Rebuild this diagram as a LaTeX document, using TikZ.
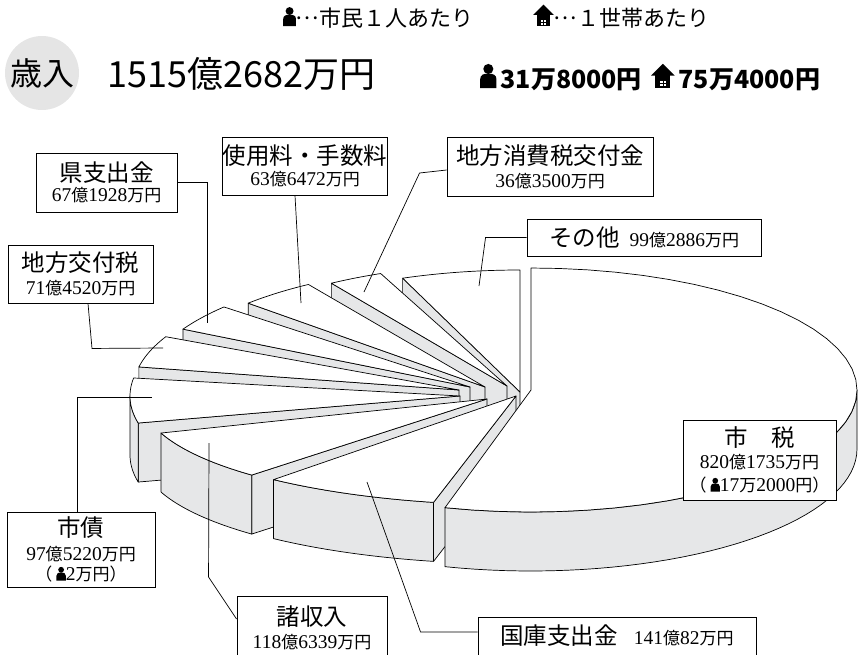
\documentclass[tikz,border=0pt]{standalone}
\usepackage{fontspec}
\setmainfont{Noto Sans CJK JP}
\newfontfamily\numfont{Liberation Serif}
\definecolor{wallgray}{RGB}{230,231,232}
\definecolor{badgegray}{RGB}{229,229,229}

\newcommand\dg[1]{{\numfont\fontsize{19.5}{20}\selectfont #1}}
\newcommand\ttl{\fontsize{23.5}{20}\selectfont}
\newcommand\amt{\fontsize{17}{20}\selectfont}
\newcommand\middots{\raisebox{0.3em}{…}}

\newcommand\personmark[1][1]{\tikz[baseline=0pt,x=#1pt,y=#1pt]{%
	\fill[black] (0,13.6) circle (3.6);
	\fill[black] (-5.8,0) -- (-5.8,6.3) .. controls (-5.8,9.4) and (-3.4,10.3) .. (0,10.3) .. controls (3.4,10.3) and (5.8,9.4) .. (5.8,6.3) -- (5.8,0) -- cycle;}}
\newcommand\housemark[1][1]{\tikz[baseline=0pt,x=#1pt,y=#1pt]{%
	\fill[black] (-9,9.6) -- (0,18.6) -- (9,9.6) -- cycle;
	\fill[black] (-5.8,0) rectangle (5.8,10);
	\fill[white] (-2.7,1.1) rectangle (2.7,6.3);
	\draw[black,line width=0.45pt] (-2.7,1.1) rectangle (2.7,6.3) (0,1.1) -- (0,6.3) (-2.7,3.7) -- (2.7,3.7);}}

% apex x, apex y, x radius, y radius, angles
\newcommand\slicetop[6]{\filldraw[face] (#1,#2) -- plot[domain=#5:#6] ({#1+#3*cos(\x)},{#2-#4*sin(\x)}) -- cycle;}
\newcommand\slicecut[5]{\filldraw[wall] (#1,#2) -- ({#1+#3*cos(#5)},{#2-#4*sin(#5)}) -- ++(0,59) -- (#1,#2+59) -- cycle;}
\newcommand\slicewall[6]{\filldraw[wall] plot[domain=#5:#6] ({#1+#3*cos(\x)},{#2-#4*sin(\x)}) -- plot[domain=#6:#5] ({#1+#3*cos(\x)},{#2+59-#4*sin(\x)}) -- cycle;}

\begin{document}
\begin{tikzpicture}[x=1pt,y=-1pt,samples=40,
	every node/.style={inner sep=0pt},
	face/.style={fill=white,draw=black,line width=0.7pt,line join=round},
	wall/.style={fill=wallgray,draw=black,line width=0.7pt,line join=round},
	tag/.style={draw=black,fill=white,line width=0.9pt,align=center,font=\ttl},
	leader/.style={black,line width=0.7pt}]
	\useasboundingbox (0,0) rectangle (862,654);

	\node[anchor=base west,font=\fontsize{22}{22}\selectfont] (legperson) at (283,26) {\personmark[1.1]\middots 市民１人あたり};
	\node[anchor=base west,font=\fontsize{22}{22}\selectfont] (leghouse) at (533,26) {\housemark[1.15]\middots １世帯あたり};
	\node[circle,fill=badgegray,minimum size=74pt,font=\fontsize{32}{32}\selectfont] (badge) at (42,73) {歳入};
	\node[anchor=base west,font=\fontsize{36}{36}\selectfont] (total) at (107,87) {1515億2682万円};
	\node[anchor=base west,font=\bfseries\fontsize{25}{25}\selectfont] (percap) at (480,88) {\personmark[1.4]\,31万8000円};
	\node[anchor=base west,font=\bfseries\fontsize{25}{25}\selectfont] (perhh) at (651,88) {\housemark[1.3]\,75万4000円};

	% slices, back to front
	\slicecut{520}{392}{326}{122}{111.1}
	\slicetop{520}{392}{326}{122}{90}{111.1}
	\slicecut{507}{386}{326}{122}{122.6}
	\slicetop{507}{386}{326}{122}{112.8}{122.6}
	\slicecut{485}{387}{326}{122}{136.6}
	\slicetop{485}{387}{326}{122}{122.8}{136.6}
	\slicecut{470}{387}{326}{122}{151.7}
	\slicetop{470}{387}{326}{122}{139.0}{151.7}
	\slicecut{459}{390}{326}{122}{169.1}
	\slicetop{459}{390}{326}{122}{154.1}{169.1}
	\slicecut{460}{396}{330}{122}{192.8}
	\slicewall{460}{396}{330}{122}{180}{192.8}
	\slicetop{460}{396}{330}{122}{171.5}{192.8}
	\slicecut{487}{399}{345}{104}{227.0}
	\slicewall{487}{399}{345}{104}{199.1}{227.0}
	\slicetop{487}{399}{345}{104}{199.1}{227.0}
	\slicecut{516}{396}{378}{109}{257.4}
	\slicewall{516}{396}{378}{109}{230.1}{257.4}
	\slicetop{516}{396}{378}{109}{230.1}{257.4}
	\slicewall{531}{390}{326}{122}{-105.3}{0}
	\slicetop{531}{390}{326}{122}{-105.3}{90}

	% boxes
	\node[tag,minimum width=141pt,minimum height=59pt] (ken) at (106.5,182.5) {県支出金\\\amt\dg{67}億\dg{1928}万円};
	\node[tag,minimum width=164pt,minimum height=58pt] (shiyo) at (305,166) {使用料・手数料\\[1pt]\amt\dg{63}億\dg{6472}万円};
	\node[tag,minimum width=206pt,minimum height=59pt] (shohi) at (550,166.5) {地方消費税交付金\\[3pt]\amt\dg{36}億\dg{3500}万円};
	\node[tag,minimum width=145pt,minimum height=58pt] (kofu) at (80.5,274) {地方交付税\\[3pt]\amt\dg{71}億\dg{4520}万円};
	\node[tag,minimum width=234pt,minimum height=37pt] (sono) at (644,237.5) {その他\hspace{10pt}\amt\dg{99}億\dg{2886}万円};
	\node[tag,minimum width=153pt,minimum height=80pt] (shizei) at (759.5,460) {市　税\\[2pt]\amt\dg{820}億\dg{1735}万円\\[3pt]\amt（\hspace{4pt}\personmark[0.8]\dg{17}万\dg{2000}円）};
	\node[tag,minimum width=148pt,minimum height=75pt] (shisai) at (81,549.5) {市債\\[4pt]\amt\dg{97}億\dg{5220}万円\\\amt（\hspace{4pt}\personmark[0.8]\dg{2}万円）};
	\node[tag,minimum width=150pt,minimum height=64pt] (sho) at (312,628) {諸収入\\[3pt]\amt\dg{118}億\dg{6339}万円};
	\node[tag,minimum width=278pt,minimum height=38pt] (kokko) at (617,636) {国庫支出金\hspace{16pt}\amt\dg{141}億\dg{82}万円};

	% leader ends
	\coordinate (kenpt) at (207,323);
	\coordinate (shiyopt) at (301,303);
	\coordinate (shohipt) at (364,292);
	\coordinate (kofupt) at (163,348);
	\coordinate (sonopt) at (479,286);
	\coordinate (shisaipt) at (152,397);
	\coordinate (shopt) at (209,443);
	\coordinate (kokkopt) at (367,482);

	\draw[leader] (ken.east) -| (kenpt);
	\draw[leader] ([xshift=-10pt]shiyo.south) -- (shiyopt);
	\draw[leader] ([yshift=-3.5pt]shohi.west) -- ++(-27,3) -- (shohipt);
	\draw[leader] ([xshift=7.5pt]kofu.south) -- ++(4,45) -- (kofupt);
	\draw[leader] (sono.west) -- ++(-41,0) -- (sonopt);
	\draw[leader] ([xshift=-4pt]shisai.north) |- (shisaipt);
	\draw[leader] ([yshift=9pt]sho.west) -- ++(-28,-42) -- (shopt);
	\draw[leader] ([yshift=4pt]kokko.west) -- ++(-57,0) -- (kokkopt);
\end{tikzpicture}
\end{document}
